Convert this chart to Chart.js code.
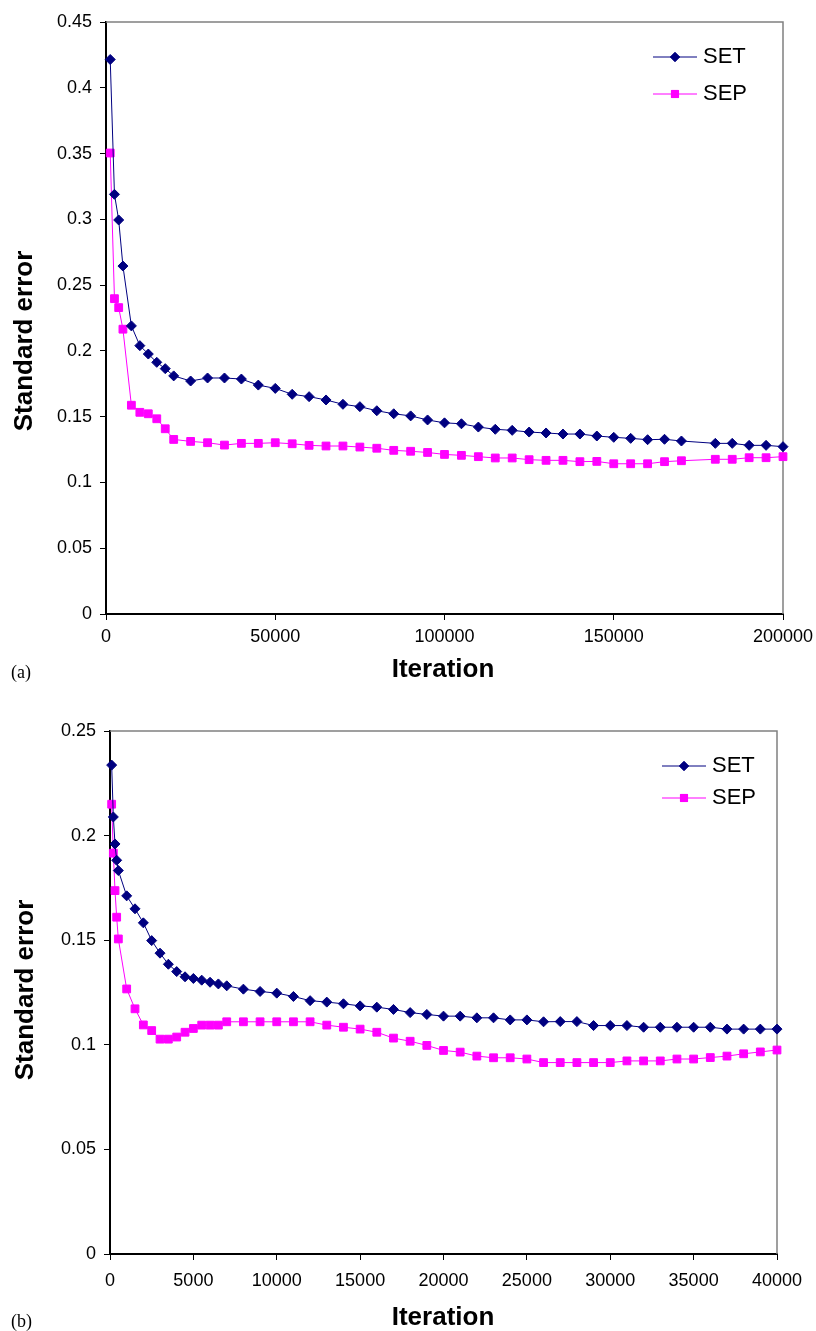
<!DOCTYPE html>
<html>
<head>
<meta charset="utf-8">
<script src="https://cdn.jsdelivr.net/npm/chart.js@4"></script>
<style>
  body { margin: 0; background: #fff; width: 816px; height: 1331px; position: relative; overflow: hidden; }
  canvas { position: absolute; left: 0; }
  .ttl { position: absolute; font-family: "Liberation Sans", Arial, sans-serif; font-weight: bold; font-size: 26px; color: #000; white-space: nowrap; transform: translate(-50%, -50%); }
  .rot { transform: translate(-50%, -50%) rotate(-90deg); }
  .tag { position: absolute; font-family: "Liberation Serif", "Times New Roman", serif; font-size: 18px; color: #000; }
</style>
</head>
<body>
<canvas id="chartA" width="816" height="690" style="top:0"></canvas>
<canvas id="chartB" width="816" height="631" style="top:700px"></canvas>

<div class="ttl rot" style="left:23px; top:341px">Standard error</div>
<div class="ttl" style="left:443px; top:668px">Iteration</div>
<div class="tag" style="left:11px; top:662px">(a)</div>

<div class="ttl rot" style="left:24px; top:990px">Standard error</div>
<div class="ttl" style="left:443px; top:1316px">Iteration</div>
<div class="tag" style="left:11px; top:1311px">(b)</div>

<script>
// (a) iterations 0 - 200000
const iterA = [1250, 2500, 3750, 5000, 7500, 10000, 12500, 15000, 17500, 20000,
    25000, 30000, 35000, 40000, 45000, 50000, 55000, 60000, 65000, 70000,
    75000, 80000, 85000, 90000, 95000, 100000, 105000, 110000, 115000, 120000,
    125000, 130000, 135000, 140000, 145000, 150000, 155000, 160000, 165000, 170000,
    180000, 185000, 190000, 195000, 200000];
const setA = [0.4215, 0.319, 0.2995, 0.2645, 0.219, 0.204, 0.1976, 0.1913, 0.1865, 0.181,
    0.1771, 0.1794, 0.1794, 0.1786, 0.174, 0.1715, 0.167, 0.1652, 0.1627, 0.1594,
    0.1576, 0.1545, 0.1522, 0.1506, 0.1475, 0.1453, 0.1446, 0.1421, 0.1404, 0.1396,
    0.1383, 0.1376, 0.1368, 0.1368, 0.1353, 0.1343, 0.1335, 0.1325, 0.1328, 0.1315,
    0.1297, 0.1297, 0.1282, 0.1282, 0.1272];
const sepA = [0.3504, 0.2397, 0.2329, 0.2165, 0.1587, 0.1533, 0.1522, 0.1484, 0.1408, 0.1327,
    0.1312, 0.1302, 0.1284, 0.1297, 0.1297, 0.1302, 0.1294, 0.1282, 0.1277, 0.1277,
    0.1269, 0.126, 0.1244, 0.1237, 0.1228, 0.1213, 0.1206, 0.1196, 0.1186, 0.1186,
    0.1173, 0.1168, 0.1168, 0.1158, 0.116, 0.1142, 0.1142, 0.1142, 0.1158, 0.1165,
    0.1176, 0.1176, 0.1188, 0.1188, 0.1196];

// (b) iterations 0 - 40000
const iterB = [100, 200, 300, 400, 500, 1000, 1500, 2000, 2500, 3000,
    3500, 4000, 4500, 5000, 5500, 6000, 6500, 7000, 8000, 9000,
    10000, 11000, 12000, 13000, 14000, 15000, 16000, 17000, 18000, 19000,
    20000, 21000, 22000, 23000, 24000, 25000, 26000, 27000, 28000, 29000,
    30000, 31000, 32000, 33000, 34000, 35000, 36000, 37000, 38000, 39000, 40000];
const setB = [0.2337, 0.2089, 0.196, 0.1882, 0.1833, 0.1712, 0.165, 0.1583, 0.1498, 0.1438,
    0.1385, 0.135, 0.1325, 0.1317, 0.1309, 0.1299, 0.1291, 0.1282, 0.1266, 0.1255,
    0.1247, 0.1231, 0.1211, 0.1204, 0.1196, 0.1186, 0.118, 0.1169, 0.1154, 0.1145,
    0.1137, 0.1137, 0.1129, 0.1129, 0.1119, 0.1119, 0.111, 0.1111, 0.1111, 0.1092,
    0.1092, 0.1092, 0.1084, 0.1084, 0.1084, 0.1084, 0.1084, 0.1075, 0.1075, 0.1075, 0.1075];
const sepB = [0.215, 0.1916, 0.1737, 0.161, 0.1506, 0.1267, 0.1172, 0.1095, 0.1068, 0.1027,
    0.1027, 0.1037, 0.106, 0.1078, 0.1094, 0.1094, 0.1094, 0.111, 0.111, 0.111,
    0.111, 0.111, 0.111, 0.1094, 0.1084, 0.1075, 0.106, 0.1032, 0.1017, 0.0997,
    0.0973, 0.0965, 0.0946, 0.0938, 0.0938, 0.0932, 0.0915, 0.0915, 0.0915, 0.0915,
    0.0915, 0.0923, 0.0923, 0.0923, 0.0932, 0.0932, 0.0939, 0.0946, 0.0957, 0.0966, 0.0975];

const seriesNames = ['SET', 'SEP'];
const tickFont = { family: 'Liberation Sans, Arial, sans-serif', size: 18 };

function toPoints(xs, ys) {
    return xs.map((x, i) => ({ x: x, y: ys[i] }));
}

// gray top and right edges of the plot box
const plotBox = {
    id: 'plotBox',
    beforeDatasetsDraw(chart) {
        const a = chart.chartArea, ctx = chart.ctx;
        ctx.save();
        ctx.strokeStyle = '#808080';
        ctx.lineWidth = 1.5;
        ctx.beginPath();
        ctx.moveTo(a.left, a.top);
        ctx.lineTo(a.right, a.top);
        ctx.lineTo(a.right, a.bottom);
        ctx.stroke();
        ctx.restore();
    }
};

// excel style legend: short line with marker in the middle
const lineLegend = {
    id: 'lineLegend',
    afterDraw(chart, args, opts) {
        const ctx = chart.ctx;
        chart.data.datasets.forEach((ds, i) => {
            const y = opts.y + i * opts.gap;
            ctx.save();
            ctx.strokeStyle = ds.borderColor;
            ctx.lineWidth = 1;
            ctx.beginPath();
            ctx.moveTo(opts.x, y);
            ctx.lineTo(opts.x + opts.len, y);
            ctx.stroke();
            ctx.fillStyle = ds.backgroundColor;
            Chart.helpers.drawPoint(ctx, { pointStyle: ds.pointStyle, radius: ds.pointRadius - 0.5, borderWidth: 1 },
                opts.x + opts.len / 2, y);
            ctx.fill();
            ctx.stroke();
            ctx.fillStyle = '#000';
            ctx.font = '22px "Liberation Sans", Arial, sans-serif';
            ctx.textBaseline = 'middle';
            ctx.fillText(ds.label, opts.x + opts.len + 6, y);
            ctx.restore();
        });
    }
};

function makeChart(id, xs, setVals, sepVals, cfg) {
    return new Chart(document.getElementById(id), {
        type: 'line',
        data: {
            datasets: [{
                label: seriesNames[0],
                data: toPoints(xs, setVals),
                borderColor: '#000080',
                backgroundColor: '#000080',
                borderWidth: 1,
                pointStyle: 'rectRot',
                pointRadius: 5,
                pointBorderWidth: 1,
                clip: false
            }, {
                label: seriesNames[1],
                data: toPoints(xs, sepVals),
                borderColor: '#FF00FF',
                backgroundColor: '#FF00FF',
                borderWidth: 1,
                pointStyle: 'rect',
                pointRadius: 5.5,
                pointBorderWidth: 1,
                clip: false
            }]
        },
        options: {
            responsive: false,
            animation: false,
            devicePixelRatio: 1,
            layout: { padding: { top: cfg.top, right: cfg.right, left: 0, bottom: 0 } },
            plugins: {
                legend: { display: false },
                tooltip: { enabled: false },
                lineLegend: cfg.legend
            },
            scales: {
                x: {
                    type: 'linear',
                    min: 0,
                    max: cfg.xMax,
                    afterFit(s) {
                        s.height = cfg.xHeight;
                        s.paddingLeft = 0;
                        s.paddingRight = 0;
                    },
                    border: { display: true, color: '#000', width: 2 },
                    grid: { drawOnChartArea: false, drawTicks: true, tickLength: 6, color: '#000' },
                    ticks: {
                        stepSize: cfg.xStep,
                        autoSkip: false,
                        maxRotation: 0,
                        color: '#000',
                        font: tickFont,
                        padding: cfg.xPad,
                        callback: v => String(v)
                    }
                },
                y: {
                    min: 0,
                    max: cfg.yMax,
                    afterFit(s) { s.width = cfg.yWidth; },
                    border: { display: true, color: '#000', width: 2 },
                    grid: { drawOnChartArea: false, drawTicks: true, tickLength: 6, color: '#000' },
                    ticks: {
                        stepSize: 0.05,
                        color: '#000',
                        font: tickFont,
                        padding: 8,
                        callback: v => String(+v.toFixed(2))
                    }
                }
            }
        },
        plugins: [plotBox, lineLegend]
    });
}

makeChart('chartA', iterA, setA, sepA, {
    top: 22, right: 33, xHeight: 76, yWidth: 106, xMax: 200000, xStep: 50000, yMax: 0.45, xPad: 6,
    legend: { x: 653, y: 57, gap: 37, len: 44 }
});

makeChart('chartB', iterB, setB, sepB, {
    top: 31, right: 39, xHeight: 77, yWidth: 110, xMax: 40000, xStep: 5000, yMax: 0.25, xPad: 10,
    legend: { x: 662, y: 66, gap: 32, len: 44 }
});
</script>
</body>
</html>
